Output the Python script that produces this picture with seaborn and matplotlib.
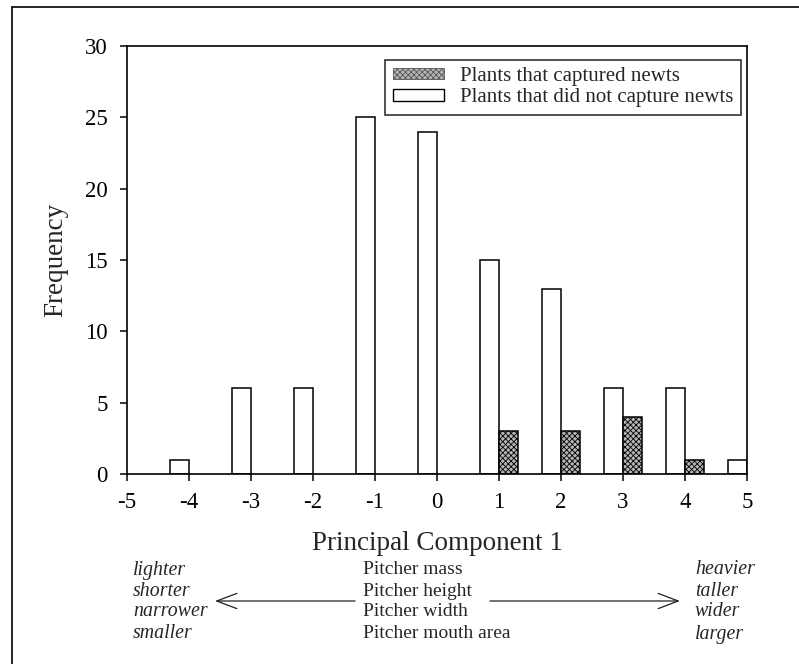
import matplotlib
matplotlib.use("Agg")
import matplotlib.pyplot as plt
from matplotlib.patches import Patch
from matplotlib.lines import Line2D
import seaborn as sns
import pandas as pd

# Valeurs
pc1 = [-4, -3, -2, -1, 0, 1, 2, 3, 4, 5]
not_captured = [1, 6, 6, 25, 24, 15, 13, 6, 6, 1]
pc1_captured = [1, 2, 3, 4]
captured = [3, 3, 4, 1]

lab_not = "Plants that did not capture newts"
lab_cap = "Plants that captured newts"

x_ticks = [-5, -4, -3, -2, -1, 0, 1, 2, 3, 4, 5]
y_ticks = [0, 5, 10, 15, 20, 25, 30]

left_words = ["lighter", "shorter", "narrower", "smaller"]
mid_words = ["Pitcher mass", "Pitcher height", "Pitcher width", "Pitcher mouth area"]
right_words = ["heavier", "taller", "wider", "larger"]

df = pd.concat([
    pd.DataFrame({"pc": pc1, "n": not_captured, "group": lab_not}),
    pd.DataFrame({"pc": pc1_captured, "n": captured, "group": lab_cap}),
])

sns.set_style("ticks")
plt.rcParams["font.family"] = ["Liberation Serif", "DejaVu Serif"]
plt.rcParams["hatch.linewidth"] = 0.6
plt.rcParams["hatch.color"] = "#444444"

W, H = 799, 664
fig = plt.figure(figsize=(W / 100, H / 100), dpi=100)
ax = fig.add_axes([127 / W, 1 - 474 / H, 620 / W, 428 / H])

def fx(x):
    return x / W

def fy(y):
    return 1 - y / H

grey = "#b5b5b5"
sns.barplot(data=df, x="pc", y="n", hue="group", hue_order=[lab_not, lab_cap],
            palette={lab_not: "white", lab_cap: grey}, native_scale=True,
            width=0.6, dodge=True, edgecolor="black", linewidth=1.1,
            legend=False, ax=ax)

# hachures pour les plantes qui ont capturé
for bar in ax.containers[1]:
    bar.set_hatch("xxxxxx")

ax.set_xlim(-5, 5)
ax.set_ylim(0, 30)
ax.set_xticks(x_ticks)
ax.set_xticklabels([str(t) for t in x_ticks])
ax.set_yticks(y_ticks)
for s in ax.spines.values():
    s.set_visible(True)
    s.set_linewidth(1.2)
    s.set_color("black")
ax.tick_params(axis="both", direction="out", length=5, width=1.1, colors="black",
               labelsize=16.5)
ax.tick_params(axis="y", pad=9)
ax.tick_params(axis="x", pad=8)
ax.set_xlabel("Principal Component 1", fontsize=19.5, labelpad=13)
ax.set_ylabel("Frequency", fontsize=19.5, labelpad=12)

handles = [Patch(facecolor=grey, edgecolor="#555555", hatch="xxxxxx", linewidth=0.6),
           Patch(facecolor="white", edgecolor="black", linewidth=1.0)]
leg = ax.legend(handles, [lab_cap, lab_not], loc="upper right",
                bbox_to_anchor=(fx(741), fy(60)), bbox_transform=fig.transFigure,
                borderaxespad=0, fontsize=15, frameon=True, fancybox=False,
                handlelength=2.45, handleheight=0.45, handletextpad=0.8,
                labelspacing=0.1, borderpad=0.35)
leg.get_frame().set_edgecolor("black")
leg.get_frame().set_linewidth(1.2)

# texte sous l'axe
rows = [570, 591, 612, 634]
for i, y in enumerate(rows):
    fig.text(fx(133), fy(y), left_words[i], fontsize=14.3, style="italic", va="center")
    fig.text(fx(363), fy(y), mid_words[i], fontsize=14, va="center")
    fig.text(fx(695), fy(y), right_words[i], fontsize=14.3, style="italic", va="center")

arrow_style = dict(arrowstyle="->,head_length=1.45,head_width=0.55",
                   mutation_scale=10, lw=0.9, color="#222222",
                   shrinkA=0, shrinkB=0)
fig.add_artist(matplotlib.patches.FancyArrowPatch((fx(355), fy(601)), (fx(215), fy(601)),
                                                  transform=fig.transFigure, **arrow_style))
fig.add_artist(matplotlib.patches.FancyArrowPatch((fx(490), fy(601)), (fx(680), fy(601)),
                                                  transform=fig.transFigure, **arrow_style))

# cadre de la figure
fig.add_artist(Line2D([fx(12), fx(12)], [fy(7), 0], color="black", lw=1.2,
                      transform=fig.transFigure))
fig.add_artist(Line2D([fx(12), 1], [fy(7), fy(7)], color="black", lw=1.2,
                      transform=fig.transFigure))

fig.savefig("out.png", dpi=100)
